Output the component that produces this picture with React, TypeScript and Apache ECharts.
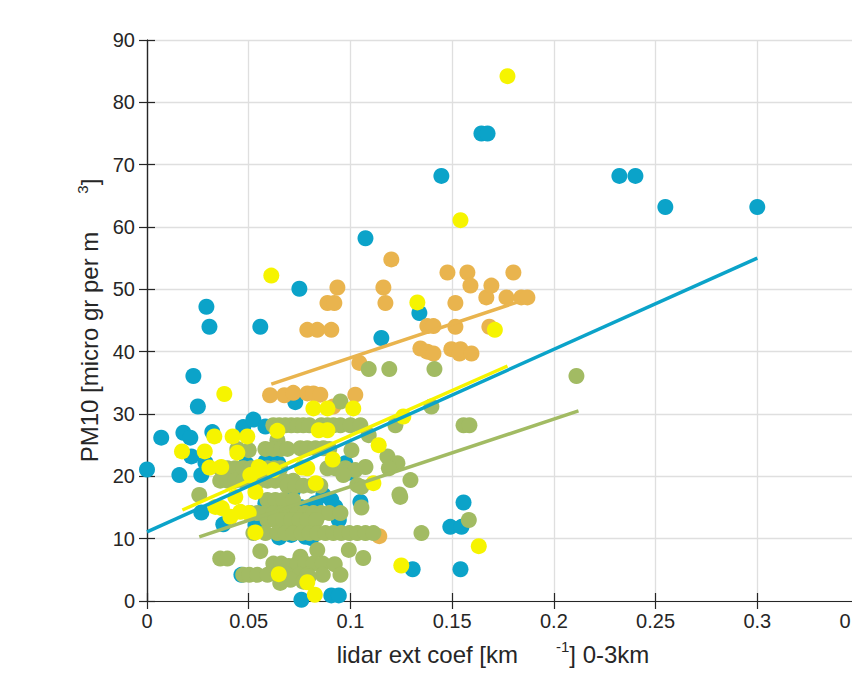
import React, { useEffect, useRef } from "react";
import * as echarts from "echarts";

const xTicks = [0, 0.05, 0.1, 0.15, 0.2, 0.25, 0.3, 0.35];
const yTicks = [0, 10, 20, 30, 40, 50, 60, 70, 80, 90];

const bluePts: number[][] = [
  [0, 21.1], [0.007, 26.2], [0.0159, 20.2], [0.0179, 27], [0.0213, 26.2], [0.0218, 23.2], [0.0228, 36.1],
  [0.025, 31.2], [0.0267, 20.2], [0.0267, 14.2], [0.0287, 22.2], [0.0292, 47.2], [0.0307, 44], [0.0321, 27.1],
  [0.0375, 12.3], [0.039, 20.2], [0.0464, 4.2], [0.0473, 27.9], [0.0488, 22], [0.0523, 29.1], [0.0533, 12.2],
  [0.0557, 44], [0.0582, 28], [0.0582, 22.3], [0.0582, 15.7], [0.0611, 24.2], [0.0645, 22.1], [0.065, 10.2],
  [0.0655, 15.1], [0.068, 15.9], [0.0719, 17.8], [0.0729, 31.9], [0.0749, 50.1], [0.0754, 15.1], [0.0709, 10.6],
  [0.0759, 0.2], [0.0779, 10.3], [0.0808, 10.1], [0.0818, 15.1], [0.0828, 15.7], [0.0867, 17], [0.0906, 16.2],
  [0.0906, 0.9], [0.0926, 15.1], [0.0943, 0.9], [0.0943, 13], [0.0975, 22.1], [0.0995, 20.6], [0.1049, 15.9],
  [0.1074, 58.2], [0.1152, 42.2], [0.1306, 5.1], [0.1339, 46.2], [0.1447, 68.2], [0.1491, 11.9], [0.1541, 5.1],
  [0.1546, 11.9], [0.1556, 15.8], [0.1644, 75], [0.1674, 75], [0.2322, 68.2], [0.2401, 68.2], [0.2548, 63.2],
  [0.3, 63.2],
];

const orangePts: number[][] = [
  [0.0605, 33], [0.0675, 33], [0.0719, 33.4], [0.0788, 33.3], [0.0818, 33.3], [0.0852, 33.1], [0.0916, 31.2],
  [0.1024, 33.1], [0.0788, 43.5], [0.0837, 43.5], [0.0906, 43.5], [0.0887, 47.8], [0.0921, 47.8], [0.0936, 50.3],
  [0.1044, 38.2], [0.1142, 10.4], [0.1162, 50.3], [0.1172, 47.8], [0.1201, 54.8], [0.1344, 40.5], [0.1378, 40],
  [0.1378, 44.1], [0.1408, 44.1], [0.1408, 39.7], [0.1477, 52.7], [0.1496, 40.4], [0.1516, 47.8], [0.1516, 44],
  [0.1536, 39.7], [0.1541, 40.4], [0.1575, 52.7], [0.159, 50.6], [0.1595, 39.7], [0.1668, 48.7], [0.1683, 44],
  [0.1693, 50.6], [0.1767, 48.7], [0.1801, 52.7], [0.184, 48.7], [0.187, 48.7],
];

const greenPts: number[][] = [
  [0.109, 37.2], [0.1191, 37.2], [0.1413, 37.2], [0.2111, 36.1], [0.0951, 32], [0.1398, 31.2],
  [0.0621, 28.2], [0.065, 28.2], [0.068, 28.2], [0.0709, 28.2], [0.0739, 28.2], [0.0768, 28.2], [0.0798, 28.2],
  [0.0857, 28.2], [0.0887, 28.2], [0.0916, 28.2], [0.0951, 28.2], [0.1, 28.2], [0.1049, 28.2], [0.1221, 28.2],
  [0.1556, 28.2], [0.1585, 28.2], [0.109, 26.6], [0.0641, 25.8],
  [0.0444, 24.4], [0.05, 24.2], [0.0582, 24.4], [0.0621, 24.4], [0.066, 24.4], [0.069, 24.4], [0.0754, 24.5],
  [0.0788, 24.5], [0.0828, 24.5], [0.0867, 24.5], [0.0896, 24.4], [0.1005, 24.2], [0.1182, 23.2], [0.1231, 22.1],
  [0.036, 21.3], [0.0395, 21.3], [0.0434, 21.3], [0.0473, 21.3], [0.0513, 21.3], [0.0552, 21.3], [0.0592, 21.3],
  [0.0626, 21.3], [0.0655, 21.3], [0.0887, 21.3], [0.0926, 21.3], [0.0975, 21.3], [0.1024, 21], [0.1074, 21.5],
  [0.1189, 21.3], [0.0965, 20.2],
  [0.036, 19.3], [0.0395, 19.3], [0.0434, 19.3], [0.0473, 19.3], [0.0513, 19.3], [0.0552, 19.3], [0.0592, 19.3],
  [0.0631, 19.3], [0.067, 19.3], [0.0719, 19.3], [0.1295, 19.4],
  [0.069, 18.5], [0.0729, 18.5], [0.0768, 18.5], [0.0808, 18.5], [0.0852, 18.5], [0.1034, 18.6], [0.1054, 18.3],
  [0.0257, 17], [0.1241, 17.1],
  [0.0592, 16.2], [0.0631, 16.2], [0.067, 16.2], [0.0719, 16.2], [0.1245, 16.7], [0.1054, 15],
  [0.0508, 14.1], [0.0542, 14.1], [0.0582, 14.1], [0.0621, 14.1], [0.066, 14.1], [0.07, 14.1], [0.0739, 14.1],
  [0.0778, 14.1], [0.0818, 14.1], [0.0857, 14.1], [0.0896, 14.1], [0.0951, 14.1],
  [0.0592, 13], [0.0631, 13], [0.067, 13], [0.0709, 13], [0.0749, 13], [0.0788, 13], [0.0832, 13], [0.1582, 13],
  [0.0523, 10.9], [0.0582, 10.9], [0.0641, 10.9], [0.068, 10.9], [0.0719, 10.9], [0.0759, 10.9], [0.0798, 10.9],
  [0.0837, 10.9], [0.0877, 10.9], [0.0916, 10.9], [0.0955, 10.9], [0.0995, 10.9], [0.1034, 10.9], [0.1074, 10.9],
  [0.1113, 10.9], [0.1349, 10.9],
  [0.0557, 8], [0.0837, 8.2], [0.0992, 8.2],
  [0.036, 6.8], [0.0395, 6.8], [0.0754, 7.1], [0.1063, 6.9],
  [0.0621, 6], [0.066, 6], [0.0697, 5.6], [0.0739, 6], [0.0778, 6], [0.0818, 6], [0.0864, 6], [0.0923, 5.9],
  [0.0473, 4.2], [0.0503, 4.2], [0.0542, 4.2], [0.0592, 4.2], [0.0641, 4.2], [0.069, 4.2], [0.0749, 4.2],
  [0.0788, 4.2], [0.0864, 4.2], [0.0951, 4.2],
  [0.0655, 2.9], [0.0705, 3.4], [0.0768, 3.1], [0.0795, 3.9],
];

const yellowPts: number[][] = [
  [0.0172, 24], [0.0284, 24], [0.0307, 21.4], [0.0331, 26.4], [0.0336, 15.1], [0.0365, 21.5], [0.0368, 14.9],
  [0.038, 33.2], [0.041, 13.5], [0.0421, 26.4], [0.0434, 16.7], [0.0444, 23.8], [0.0459, 14.3], [0.0493, 26.4],
  [0.05, 14.1], [0.0508, 20.2], [0.0533, 17.5], [0.0533, 11], [0.0549, 21.5], [0.0557, 21.3], [0.0611, 52.2],
  [0.0621, 21], [0.0641, 27.3], [0.0648, 4.3], [0.0762, 21.4], [0.0788, 21.3], [0.0788, 3], [0.0818, 30.9],
  [0.0825, 1], [0.083, 18.9], [0.0844, 27.4], [0.0887, 27.4], [0.0887, 30.9], [0.0913, 22.7], [0.1014, 30.9],
  [0.1113, 18.9], [0.1139, 25], [0.125, 5.7], [0.126, 29.6], [0.1329, 47.9], [0.1541, 61.1], [0.1631, 8.8],
  [0.171, 43.5], [0.1772, 84.2],
];

const blueFit: number[][] = [[0, 11.1], [0.3, 55]];
const orangeFit: number[][] = [[0.0611, 34.8], [0.1835, 48.1]];
const greenFit: number[][] = [[0.0257, 10.3], [0.2121, 30.5]];
const yellowFit: number[][] = [[0.0174, 14.6], [0.1772, 37.7]];

const BLUE = "#0ba3c9";
const ORANGE = "#e9b44e";
const GREEN = "#a2bb63";
const YELLOW = "#f6f400";
const AXIS = "#262626";
const FONT = "'Liberation Sans', Arial, Helvetica, sans-serif";

export default function App() {
  const ref = useRef<HTMLDivElement>(null);
  useEffect(() => {
    if (!ref.current) return;
    const chart = echarts.init(ref.current, undefined, { renderer: "svg" });
    const scatter = (data: number[][], color: string) => ({
      type: "scatter",
      data,
      symbolSize: 16,
      itemStyle: { color, opacity: 1 },
      emphasis: { disabled: true },
    });
    const fit = (data: number[][], color: string) => ({
      type: "line",
      data,
      showSymbol: false,
      symbol: "none",
      lineStyle: { color, width: 3.5 },
      emphasis: { disabled: true },
    });
    const axisCommon = {
      axisLine: { show: true, lineStyle: { color: AXIS, width: 1.2 } },
      axisTick: { show: true, inside: true, length: 8, lineStyle: { color: AXIS, width: 1.2 } },
    };
    const nameRich = {
      a: { fontSize: 24, color: AXIS, fontFamily: FONT, lineHeight: 30 },
      b: { fontSize: 24, color: AXIS, fontFamily: FONT, lineHeight: 30, padding: [0, 20, 0, 0] },
      s: { fontSize: 15, color: AXIS, fontFamily: FONT, lineHeight: 30, verticalAlign: "top", padding: [0, 0, 0, 38] },
    };
    chart.setOption({
      animation: false,
      backgroundColor: "#ffffff",
      textStyle: { fontFamily: FONT },
      grid: {
        left: 147,
        top: 40,
        width: 712,
        height: 561,
        containLabel: false,
        outerBoundsMode: "none",
      },
      xAxis: [
        {
          type: "value",
          min: xTicks[0],
          max: xTicks[xTicks.length - 1],
          interval: 0.05,
          position: "bottom",
          ...axisCommon,
          axisLabel: { color: AXIS, fontSize: 20, margin: 10, fontFamily: FONT },
          splitLine: { show: true, lineStyle: { color: "#dfdfdf", width: 1.3 } },
          name: "{a|lidar ext coef [km}{s|-1}{b|] 0-3km}",
          nameLocation: "middle",
          nameGap: 38,
          nameTextStyle: { rich: nameRich },
        },
        {
          type: "value",
          min: xTicks[0],
          max: xTicks[xTicks.length - 1],
          interval: 0.05,
          position: "top",
          ...axisCommon,
          axisLabel: { show: false },
          splitLine: { show: false },
        },
      ],
      yAxis: [
        {
          type: "value",
          min: yTicks[0],
          max: yTicks[yTicks.length - 1],
          interval: 10,
          position: "left",
          ...axisCommon,
          axisLabel: { color: AXIS, fontSize: 20, margin: 12, fontFamily: FONT },
          splitLine: { show: true, lineStyle: { color: "#dfdfdf", width: 1.3 } },
          name: "{a|PM10 [micro gr per m}{s|3}{a|]}",
          nameLocation: "middle",
          nameRotate: 90,
          nameGap: 40,
          nameTextStyle: { rich: nameRich },
        },
        {
          type: "value",
          min: yTicks[0],
          max: yTicks[yTicks.length - 1],
          interval: 10,
          position: "right",
          ...axisCommon,
          axisLabel: { show: false },
          splitLine: { show: false },
        },
      ],
      series: [
        scatter(bluePts, BLUE),
        fit(blueFit, BLUE),
        scatter(orangePts, ORANGE),
        fit(orangeFit, ORANGE),
        scatter(greenPts, GREEN),
        fit(greenFit, GREEN),
        scatter(yellowPts, YELLOW),
        fit(yellowFit, YELLOW),
      ],
    });
    return () => chart.dispose();
  }, []);
  return <div ref={ref} style={{ position: "absolute", left: 0, top: 0, width: 852, height: 700 }} />;
}
